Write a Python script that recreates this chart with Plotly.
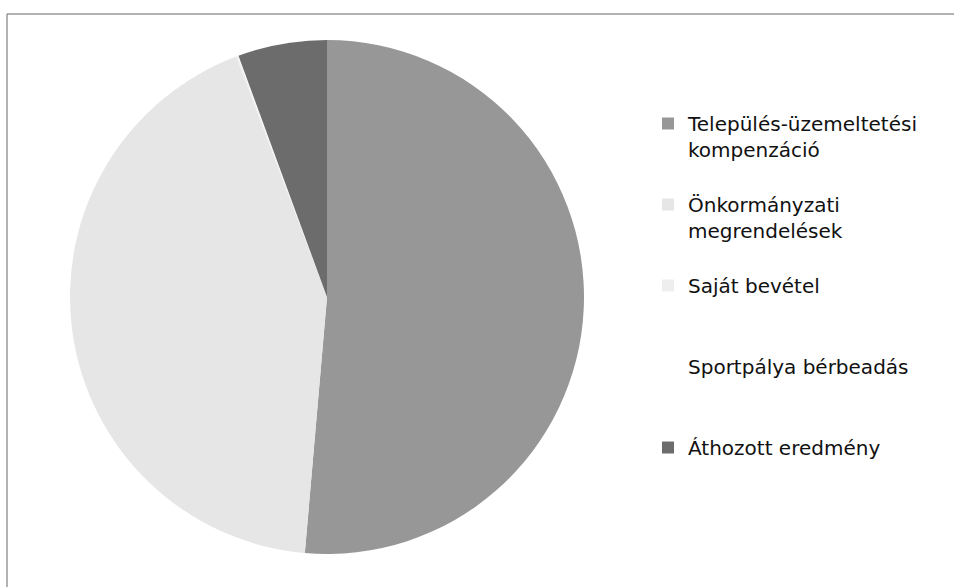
import plotly.graph_objects as go

labels = ["Település-üzemeltetési<br>kompenzáció<br> ",
          "Önkormányzati<br>megrendelések<br> ",
          "Saját bevétel<br> <br> ",
          "Sportpálya bérbeadás<br> <br> ",
          "Áthozott eredmény"]
values = [51.4, 42.9, 0.1, 0.05, 5.6]
colors = ["#979797", "#e6e6e6", "#eeeeee", "#ffffff", "#6c6c6c"]

W, H = 954, 587
cx, cy, r = 327, 297, 257

fig = go.Figure(go.Pie(
    labels=labels, values=values, sort=False, direction="clockwise", rotation=0,
    marker=dict(colors=colors, line=dict(color="rgba(0,0,0,0)", width=0)),
    textinfo="none", hoverinfo="label+percent",
    domain=dict(x=[(cx - r) / W, (cx + r) / W], y=[(H - cy - r) / H, (H - cy + r) / H]),
))

fig.add_shape(type="rect", xref="paper", yref="paper",
              x0=7 / W, x1=1.05, y0=-0.05, y1=1 - 14 / H,
              line=dict(color="#666666", width=1), fillcolor="rgba(0,0,0,0)", layer="below")

fig.update_layout(
    width=W, height=H,
    margin=dict(l=0, r=0, t=0, b=0),
    paper_bgcolor="white", plot_bgcolor="white",
    font=dict(family="DejaVu Sans, sans-serif", color="#111111"),
    showlegend=True,
    legend=dict(x=648 / W, y=1 - 104 / H, xanchor="left", yanchor="top",
                font=dict(size=20, family="DejaVu Sans, sans-serif", color="#111111"),
                valign="top", itemclick=False, tracegroupgap=0,
                bgcolor="rgba(0,0,0,0)"),
)

fig.write_html("out.html", config={"displayModeBar": False},
               post_script="document.body.style.margin='0';document.body.style.overflow='hidden';")
